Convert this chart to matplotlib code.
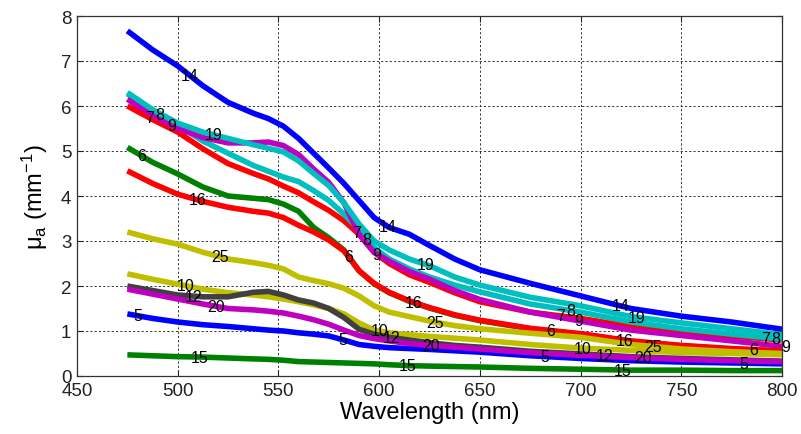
import numpy as np
import matplotlib
matplotlib.use("Agg")
import matplotlib.pyplot as plt

plt.rcParams['font.family'] = ['Liberation Sans', 'DejaVu Sans']
plt.rcParams['mathtext.fontset'] = 'custom'
plt.rcParams['mathtext.rm'] = 'Liberation Sans'
plt.rcParams['mathtext.it'] = 'Liberation Sans'

# Wavelength grid (nm)
wavelength = [475, 487.5, 500, 512.5, 525, 537.5, 545, 552.5, 560, 567.5, 575,
              582.5, 590, 597.5, 605, 615, 625, 637.5, 650, 675, 700, 725,
              750, 775, 800]

# Absorption coefficient per sample (mm^-1)
mua_5 = [1.38, 1.28, 1.20, 1.14, 1.10, 1.05, 1.02, 1.00, 0.96, 0.93, 0.89,
         0.80, 0.70, 0.66, 0.63, 0.61, 0.59, 0.56, 0.53, 0.45, 0.39, 0.34,
         0.31, 0.29, 0.27]
mua_6 = [5.08, 4.75, 4.49, 4.20, 4.00, 3.95, 3.92, 3.82, 3.66, 3.30, 3.07,
         2.80, 2.34, 2.05, 1.85, 1.66, 1.51, 1.35, 1.23, 1.05, 0.93, 0.77,
         0.67, 0.60, 0.55]
mua_7 = [6.00, 5.70, 5.42, 5.05, 4.72, 4.50, 4.38, 4.22, 4.07, 3.87, 3.68,
         3.45, 3.15, 2.75, 2.50, 2.25, 2.08, 1.85, 1.65, 1.42, 1.28, 1.10,
         0.98, 0.89, 0.80]
mua_8 = [6.27, 5.90, 5.58, 5.22, 4.95, 4.68, 4.55, 4.42, 4.32, 4.12, 3.90,
         3.60, 3.25, 2.85, 2.60, 2.38, 2.20, 2.02, 1.87, 1.60, 1.42, 1.20,
         1.05, 0.93, 0.82]
mua_9 = [6.15, 5.80, 5.50, 5.30, 5.18, 5.18, 5.20, 5.12, 4.92, 4.60, 4.30,
         3.85, 3.15, 2.75, 2.55, 2.32, 2.15, 1.90, 1.70, 1.42, 1.22, 1.02,
         0.90, 0.78, 0.66]
mua_10 = [2.27, 2.15, 2.04, 1.93, 1.85, 1.80, 1.76, 1.71, 1.65, 1.58, 1.50,
          1.38, 1.18, 1.02, 0.96, 0.92, 0.88, 0.84, 0.80, 0.70, 0.62, 0.57,
          0.52, 0.50, 0.47]
mua_12 = [2.00, 1.90, 1.80, 1.76, 1.76, 1.86, 1.88, 1.80, 1.69, 1.62, 1.50,
          1.30, 1.04, 0.93, 0.86, 0.80, 0.74, 0.68, 0.64, 0.55, 0.49, 0.43,
          0.39, 0.36, 0.33]
mua_14 = [7.67, 7.25, 6.89, 6.45, 6.08, 5.84, 5.72, 5.55, 5.28, 4.95, 4.62,
          4.28, 3.90, 3.52, 3.30, 3.15, 2.90, 2.60, 2.36, 2.06, 1.78, 1.50,
          1.33, 1.20, 1.04]
mua_15 = [0.47, 0.45, 0.43, 0.42, 0.40, 0.38, 0.37, 0.35, 0.32, 0.31, 0.30,
          0.29, 0.28, 0.27, 0.25, 0.23, 0.22, 0.21, 0.20, 0.17, 0.15, 0.13,
          0.13, 0.12, 0.12]
mua_16 = [4.56, 4.28, 4.04, 3.88, 3.75, 3.66, 3.62, 3.52, 3.35, 3.20, 3.02,
          2.78, 2.34, 2.06, 1.86, 1.67, 1.52, 1.36, 1.24, 1.06, 0.94, 0.78,
          0.68, 0.61, 0.56]
mua_19 = [6.30, 5.92, 5.62, 5.42, 5.28, 5.14, 5.06, 4.98, 4.78, 4.50, 4.23,
          3.85, 3.38, 3.00, 2.80, 2.60, 2.45, 2.20, 2.02, 1.75, 1.56, 1.32,
          1.18, 1.05, 0.92]
mua_20 = [1.93, 1.82, 1.71, 1.60, 1.50, 1.47, 1.44, 1.40, 1.33, 1.25, 1.15,
          1.02, 0.90, 0.83, 0.78, 0.72, 0.68, 0.64, 0.60, 0.52, 0.46, 0.41,
          0.37, 0.34, 0.32]
mua_25 = [3.20, 3.05, 2.93, 2.75, 2.60, 2.52, 2.46, 2.38, 2.20, 2.12, 2.05,
          1.95, 1.78, 1.56, 1.42, 1.32, 1.22, 1.12, 1.05, 0.95, 0.86, 0.70,
          0.60, 0.54, 0.50]

sample_ids = [5, 6, 7, 8, 9, 10, 12, 14, 15, 16, 19, 20, 25]
series = [mua_5, mua_6, mua_7, mua_8, mua_9, mua_10, mua_12, mua_14, mua_15,
          mua_16, mua_19, mua_20, mua_25]

# Wavelengths where each curve carries its inline sample label
label_wl = {
    5: [480, 582, 682, 781],
    6: [482, 585, 685, 786],
    7: [486, 589, 690, 792],
    8: [491, 594, 695, 797],
    9: [497, 599, 699, 802],
    10: [504, 600, 701],
    12: [508, 606, 712],
    14: [506, 604, 720],
    15: [511, 614, 721],
    16: [510, 617, 722],
    19: [518, 623, 728],
    20: [519, 626, 731],
    25: [521, 628, 736],
}

color_cycle = [(0, 0, 1), (0, 0.5, 0), (1, 0, 0), (0, 0.75, 0.75),
               (0.75, 0, 0.75), (0.75, 0.75, 0), (0.25, 0.25, 0.25)]

fig = plt.figure(figsize=(8.01, 4.35), dpi=100)
ax = fig.add_axes([77 / 801, 1 - 377 / 435, (782 - 77) / 801, (377 - 17) / 435])

wl = np.array(wavelength)
for i, (sid, vals) in enumerate(zip(sample_ids, series)):
    ax.plot(wl, vals, color=color_cycle[i % 7], lw=4.0,
            solid_joinstyle='round', solid_capstyle='butt', zorder=2 + i * 0.01)

for sid, vals in zip(sample_ids, series):
    for x in label_wl[sid]:
        y = np.interp(x, wl, vals)
        ax.text(x, y, str(sid), ha='center', va='center', fontsize=11.5,
                color='black', zorder=5, clip_on=False)

ax.set_xlim(450, 800)
ax.set_ylim(0, 8)
ax.set_xticks(range(450, 801, 50))
ax.set_yticks(range(0, 9))
ax.grid(True, color='#333333', linestyle=(0, (2.2, 2.2)), lw=0.7)
ax.set_axisbelow(True)
ax.tick_params(direction='in', length=4, width=0.8, labelsize=13.5,
               top=True, right=True, colors='#222222', pad=4)
for sp in ax.spines.values():
    sp.set_color('#333333')
    sp.set_linewidth(0.9)

ax.set_xlabel('Wavelength (nm)', fontsize=17, labelpad=2)
ax.set_ylabel(r'$\mathregular{\mu_a}$ (mm$^{\mathregular{-1}}$)', fontsize=17, labelpad=8)

fig.savefig('out.png', dpi=100)
